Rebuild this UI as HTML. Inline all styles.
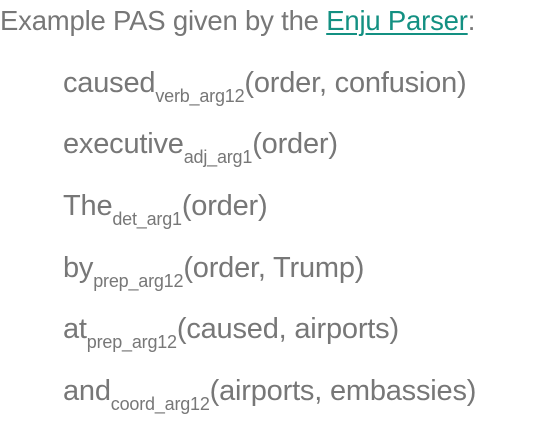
<!DOCTYPE html>
<html><head><style>
html,body{margin:0;padding:0;background:#fff;width:536px;height:421px;overflow:hidden}
body{font-family:"Liberation Sans",sans-serif;color:#777;position:relative}
.t{position:absolute;left:0;top:5px;font-size:27.5px;white-space:nowrap;letter-spacing:-0.2px}
.t a{color:#139082;text-decoration:underline;text-decoration-thickness:2px;text-underline-offset:3px}
.l{position:absolute;left:63px;font-size:29px;white-space:nowrap;letter-spacing:-0.2px}
.l sub{font-size:18px;vertical-align:-10px;line-height:0}
</style></head><body>
<div class="t">Example PAS given by the <a>Enju Parser</a>:</div>
<div class="l" style="top:67px">caused<sub>verb_arg12</sub>(order, confusion)</div>
<div class="l" style="top:128px">executive<sub>adj_arg1</sub>(order)</div>
<div class="l" style="top:190px">The<sub>det_arg1</sub>(order)</div>
<div class="l" style="top:252px">by<sub>prep_arg12</sub>(order, Trump)</div>
<div class="l" style="top:313px">at<sub>prep_arg12</sub>(caused, airports)</div>
<div class="l" style="top:375px">and<sub>coord_arg12</sub>(airports, embassies)</div>
</body></html>
